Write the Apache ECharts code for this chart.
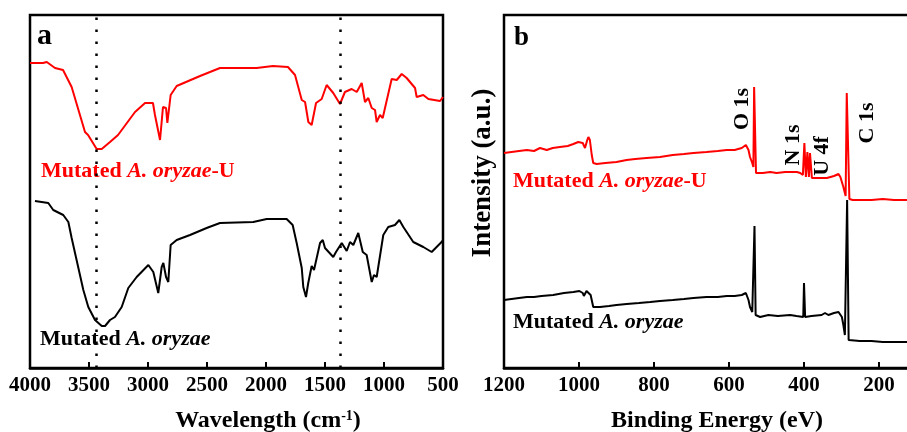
<!DOCTYPE html>
<html><head><meta charset="utf-8">
<script src="https://cdn.jsdelivr.net/npm/echarts@6/dist/echarts.min.js"></script>
<style>html,body{margin:0;padding:0;background:#fff}#c{width:907px;height:432px}</style>
</head><body><div id="c"></div>
<script>
// ---- Panel a: FTIR (wavenumber, cm-1) ----
const ftirWnU = [4000,3994,3890,3858,3788,3720,3647,3534,3508,3435,3392,3322,3254,3110,3025,2958,2941,2898,2873,2847,2836,2808,2757,2559,2390,2079,1941,1814,1754,1697,1669,1641,1613,1576,1528,1486,1430,1373,1331,1274,1231,1189,1161,1133,1104,1076,1062,1034,1011,935,892,850,808,737,723,667,624,525,500];
const ftirTU  = [305,305,305,306,300,298,281,236,233,219,219,226,233,256,265,265,253,228,261,260,245,273,282,292,300,300,302,301,293,268,266,246,243,265,269,283,275,264,276,279,276,285,266,270,260,258,246,253,250,289,288,294,290,280,271,273,269,267,271];
const ftirWn  = [3958,3845,3803,3718,3675,3647,3548,3506,3449,3392,3364,3322,3280,3223,3167,3096,2997,2955,2913,2884,2870,2847,2828,2808,2757,2644,2503,2390,2108,1994,1825,1774,1740,1697,1684,1661,1642,1613,1593,1542,1519,1500,1430,1407,1358,1316,1288,1260,1218,1180,1147,1104,1085,1062,1006,964,907,870,836,752,667,596,554,512,500];
const ftirT   = [167,165,158,153,146,130,78,61,48,42,42,48,51,61,80,91,103,96,75,101,105,91,86,123,128,133,140,145,146,149,149,143,125,100,81,71,85,102,98,125,128,120,111,116,125,117,126,123,135,116,113,86,93,91,133,141,143,148,141,126,121,116,121,126,128];
const ftirMarks = [3440, 1375];

// ---- Panel b: XPS survey (binding energy, eV) ----
const xpsBEU = [1200,1180,1160,1139,1120,1104,1086,1070,1051,1030,1015,1002,990,984,978,975,971,966,962,953,930,900,873,850,820,784,750,720,695,660,630,606,585,566,555,548,544,538,535,533,530,528,510,490,473,450,430,419,410,406,403,399,395,391,387,384,379,360,339,320,308,303,299,295,291,289,286,282,279,270,251,220,190,160,130,100,60,30,0];
const xpsIU  = [215,216,217,218,217,220,218,220,221,222,224,226,225,220,228,231,228,213,205,204,205,206,208,209,210,211,213,214,215,216,217,218,218,220,223,218,211,205,201,281,281,195,195,196,195,196,196,196,195,193,193,225,191,216,191,215,190,190,190,192,194,191,186,181,175,172,275,275,169,168,168,168,169,168,168,168,168,168,168];
const xpsBE  = [1200,1180,1160,1139,1120,1100,1069,1040,1015,999,990,987,980,975,969,962,944,920,900,873,840,810,784,750,720,695,660,630,606,585,566,555,548,544,538,535,532,529,517,495,470,437,420,402,400,397,380,353,344,335,320,308,303,299,295,291,288,285,281,279,251,220,190,160,130,100,60,30,0];
const xpsI   = [68,69,70,71,71,72,73,75,76,77,75,72,77,78,73,61,61,62,63,64,65,66,67,68,69,70,71,71,72,72,73,75,68,61,56,54,142,53,51,53,52,53,52,51,85,51,52,53,55,53,55,56,55,51,43,33,33,168,28,28,27,27,26,26,26,26,26,26,26];

const peakLabels = ['O 1s','N 1s','U 4f','C 1s'];
const sampleU = 'Mutated A. oryzae-U';
const sample = 'Mutated A. oryzae';

const zip = (xs, ys) => xs.map((x, i) => [x, ys[i]]);
const SERIF = '"Liberation Serif","Times New Roman",serif';
const F = (s, st) => (st || 'bold') + ' ' + s + 'px ' + SERIF;

const chart = echarts.init(document.getElementById('c'), null, {renderer: 'canvas'});

function xAx(gi, min, max, interval) {
  return {
    gridIndex: gi, type: 'value', min: min, max: max, interval: interval, inverse: true,
    axisLine: {show: true, lineStyle: {color: '#000', width: 2.5}},
    axisTick: {show: true, inside: true, length: 6, lineStyle: {color: '#000', width: 2}},
    axisLabel: {show: true, color: '#000', fontFamily: SERIF, fontWeight: 'bold', fontSize: 21, margin: 7,
      formatter: v => String(v)},
    splitLine: {show: false}
  };
}
function yAx(gi) {
  return {gridIndex: gi, type: 'value', min: 0, max: 353, show: false, splitLine: {show: false}};
}

function richLabel(text, x, y, color) {
  const idx = text.indexOf('A. oryzae');
  const pre = text.slice(0, idx), post = text.slice(idx + 'A. oryzae'.length);
  let t = '{n|' + pre + '}{i|A. oryzae}' + (post ? '{n|' + post + '}' : '');
  return {
    type: 'text', x: x, y: y, silent: true,
    style: {
      text: t, fill: color, textAlign: 'left', align: 'left', textVerticalAlign: 'middle', verticalAlign: 'middle',
      font: F(22),
      rich: {
        n: {fontFamily: SERIF, fontWeight: 'bold', fontSize: 22, color: color},
        i: {fontFamily: SERIF, fontWeight: 'bold', fontStyle: 'italic', fontSize: 22, color: color}
      }
    }
  };
}
function vText(text, x, y, size) {
  return {
    type: 'text', x: x, y: y, rotation: Math.PI / 2, silent: true,
    style: {text: text, fill: '#000', font: F(size), textAlign: 'center', align: 'center', textVerticalAlign: 'middle', verticalAlign: 'middle'}
  };
}
function hText(text, x, y, size, align) {
  return {
    type: 'text', x: x, y: y, silent: true,
    style: {text: text, fill: '#000', font: F(size), textAlign: align || 'center', align: align || 'center', textVerticalAlign: 'middle', verticalAlign: 'middle'}
  };
}

const option = {
  animation: false,
  backgroundColor: '#fff',
  grid: [
    {left: 30, top: 15, width: 413, height: 353, show: true, borderColor: '#000', borderWidth: 2.5, backgroundColor: 'transparent', outerBoundsMode: 'none', containLabel: false},
    {left: 504, top: 15, width: 450, height: 353, show: true, borderColor: '#000', borderWidth: 2.5, backgroundColor: 'transparent', outerBoundsMode: 'none', containLabel: false}
  ],
  xAxis: [xAx(0, 500, 4000, 500), xAx(1, 0, 1200, 200)],
  yAxis: [yAx(0), yAx(1)],
  series: [
    {type: 'line', xAxisIndex: 0, yAxisIndex: 0, data: zip(ftirWnU, ftirTU), symbol: 'none', lineStyle: {color: '#ff0000', width: 2}, z: 3,
      markLine: {silent: true, symbol: ['none', 'none'], label: {show: false},
        lineStyle: {color: '#000', width: 2.5, type: [2.5, 9.5]},
        data: ftirMarks.map(v => ({xAxis: v}))}},
    {type: 'line', xAxisIndex: 0, yAxisIndex: 0, data: zip(ftirWn, ftirT), symbol: 'none', lineStyle: {color: '#000', width: 2}, z: 3},
    {type: 'line', xAxisIndex: 1, yAxisIndex: 1, data: zip(xpsBEU, xpsIU), symbol: 'none', lineStyle: {color: '#ff0000', width: 2}, z: 3},
    {type: 'line', xAxisIndex: 1, yAxisIndex: 1, data: zip(xpsBE, xpsI), symbol: 'none', lineStyle: {color: '#000', width: 2}, z: 3}
  ],
  graphic: [
    hText('a', 37, 36, 30, 'left'),
    hText('b', 514, 38, 27, 'left'),
    richLabel(sampleU, 41, 171, '#ff0000'),
    richLabel(sample, 40, 339, '#000'),
    richLabel(sampleU, 513, 181, '#ff0000'),
    richLabel(sample, 513, 322, '#000'),
    vText(peakLabels[0], 742, 109, 22),
    vText(peakLabels[1], 793, 145, 22),
    vText(peakLabels[2], 822, 156, 22),
    vText(peakLabels[3], 867, 123, 22),
    vText('Intensity (a.u.)', 483, 173, 27),
    {
      type: 'text', x: 268, y: 421, silent: true,
      style: {
        text: '{n|Wavelength (cm}{s|-1}{n|)}', fill: '#000', textAlign: 'center', align: 'center', textVerticalAlign: 'middle', verticalAlign: 'middle',
        font: F(24),
        rich: {
          n: {fontFamily: SERIF, fontWeight: 'bold', fontSize: 24, color: '#000'},
          s: {fontFamily: SERIF, fontWeight: 'bold', fontSize: 14, color: '#000', verticalAlign: 'top'}
        }
      }
    },
    hText('Binding Energy (eV)', 717, 421, 24)
  ]
};
chart.setOption(option);
</script>
</body></html>
